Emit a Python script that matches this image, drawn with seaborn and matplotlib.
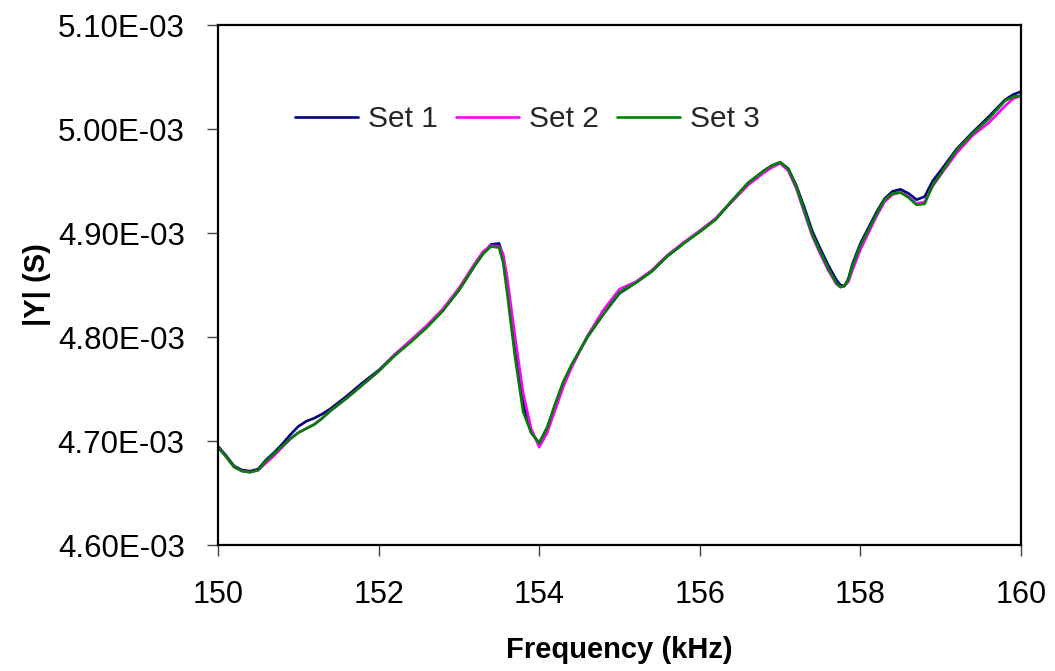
import matplotlib
matplotlib.use("Agg")
import matplotlib.pyplot as plt
from matplotlib.ticker import FuncFormatter, MultipleLocator
import numpy as np
import pandas as pd
import seaborn as sns

# Frequency sweep (kHz)
freq_khz = [
    150.0, 150.1, 150.2, 150.3, 150.4, 150.5, 150.6, 150.7, 150.8, 150.9,
    151.0, 151.1, 151.2, 151.3, 151.4, 151.6, 151.8, 152.0, 152.2, 152.4,
    152.6, 152.8, 153.0, 153.2, 153.3, 153.4, 153.5, 153.55, 153.6, 153.7,
    153.8, 153.9, 154.0, 154.1, 154.2, 154.3, 154.4, 154.6, 154.8, 155.0,
    155.2, 155.4, 155.6, 155.8, 156.0, 156.2, 156.4, 156.6, 156.8, 156.9,
    157.0, 157.1, 157.2, 157.3, 157.4, 157.5, 157.6, 157.7, 157.75, 157.8,
    157.85, 157.9, 158.0, 158.1, 158.2, 158.3, 158.4, 158.5, 158.6, 158.7,
    158.8, 158.9, 159.0, 159.2, 159.4, 159.6, 159.8, 159.9, 160.0,
]

# Admittance magnitude |Y| in mS for three measurement sets
set1_ms = [
    4.695, 4.686, 4.676, 4.672, 4.671, 4.673, 4.682, 4.689, 4.697, 4.706,
    4.714, 4.719, 4.722, 4.726, 4.731, 4.743, 4.756, 4.768, 4.783, 4.796,
    4.810, 4.826, 4.845, 4.869, 4.880, 4.889, 4.890, 4.878, 4.850, 4.788,
    4.736, 4.708, 4.698, 4.713, 4.735, 4.756, 4.772, 4.800, 4.822, 4.842,
    4.852, 4.863, 4.878, 4.890, 4.902, 4.914, 4.931, 4.948, 4.960, 4.965,
    4.968, 4.962, 4.946, 4.925, 4.902, 4.885, 4.869, 4.855, 4.850, 4.849,
    4.856, 4.870, 4.890, 4.905, 4.920, 4.933, 4.940, 4.942, 4.938, 4.932,
    4.935, 4.950, 4.960, 4.981, 4.997, 5.012, 5.028, 5.033, 5.036,
]
set2_ms = [
    4.694, 4.685, 4.675, 4.671, 4.670, 4.672, 4.679, 4.686, 4.694, 4.702,
    4.708, 4.712, 4.716, 4.722, 4.729, 4.741, 4.754, 4.767, 4.783, 4.797,
    4.811, 4.827, 4.847, 4.871, 4.882, 4.888, 4.887, 4.880, 4.858, 4.800,
    4.746, 4.712, 4.694, 4.708, 4.730, 4.752, 4.770, 4.801, 4.826, 4.846,
    4.853, 4.864, 4.879, 4.891, 4.902, 4.914, 4.930, 4.946, 4.958, 4.963,
    4.967, 4.960, 4.943, 4.920, 4.897, 4.880, 4.864, 4.851, 4.848, 4.849,
    4.853, 4.864, 4.884, 4.900, 4.916, 4.930, 4.937, 4.939, 4.935, 4.928,
    4.930, 4.945, 4.956, 4.977, 4.994, 5.006, 5.022, 5.029, 5.032,
]
set3_ms = [
    4.694, 4.685, 4.675, 4.671, 4.670, 4.672, 4.681, 4.688, 4.695, 4.702,
    4.708, 4.712, 4.716, 4.722, 4.729, 4.741, 4.754, 4.767, 4.782, 4.795,
    4.809, 4.825, 4.845, 4.869, 4.880, 4.887, 4.886, 4.872, 4.843, 4.780,
    4.728, 4.708, 4.698, 4.713, 4.736, 4.757, 4.773, 4.800, 4.822, 4.843,
    4.852, 4.863, 4.878, 4.890, 4.901, 4.913, 4.931, 4.948, 4.960, 4.965,
    4.968, 4.962, 4.945, 4.922, 4.899, 4.882, 4.866, 4.852, 4.848, 4.849,
    4.855, 4.868, 4.888, 4.903, 4.918, 4.932, 4.938, 4.939, 4.934, 4.927,
    4.928, 4.946, 4.957, 4.980, 4.996, 5.010, 5.027, 5.031, 5.032,
]

series_names = ["Set 1", "Set 2", "Set 3"]
series_colors = ["#000080", "#FF00FF", "#008000"]

frames = []
for name, vals in zip(series_names, [set1_ms, set2_ms, set3_ms]):
    frames.append(pd.DataFrame({
        "freq": freq_khz,
        "Y": np.asarray(vals) * 1e-3,   # mS -> S
        "series": name,
    }))
df = pd.concat(frames, ignore_index=True)

sns.set_theme(style="white")
plt.rcParams["font.family"] = ["Liberation Sans", "DejaVu Sans"]

W, H = 1055, 671
fig = plt.figure(figsize=(W / 100, H / 100), dpi=100)
left, right, top, bottom = 218, 1021, 25, 545
ax = fig.add_axes([left / W, 1 - bottom / H, (right - left) / W, (bottom - top) / H])

sns.lineplot(data=df, x="freq", y="Y", hue="series", palette=series_colors,
             hue_order=series_names, linewidth=1.9, ax=ax, legend=False,
             sort=False, estimator=None)

ax.set_xlim(150, 160)
ax.set_ylim(4.60e-3, 5.10e-3)
ax.xaxis.set_major_locator(MultipleLocator(2))
ax.yaxis.set_major_locator(MultipleLocator(0.1e-3))
ax.yaxis.set_major_formatter(FuncFormatter(lambda v, p: f"{v:.2E}"))

for side in ["left", "right", "top", "bottom"]:
    ax.spines[side].set_visible(True)
    ax.spines[side].set_color("black")
    ax.spines[side].set_linewidth(1.6)

ax.tick_params(axis="both", which="major", direction="out", length=8,
               width=1.0, color="#444444", labelcolor="black",
               left=True, bottom=True, top=False, right=False)
ax.tick_params(axis="y", labelsize=22.5, pad=16)
ax.tick_params(axis="x", labelsize=22, pad=17)

ax.set_xlabel("Frequency (kHz)", fontsize=21, fontweight="bold", color="black")
ax.set_ylabel("|Y| (S)", fontsize=21, fontweight="bold", color="black")
ax.xaxis.set_label_coords(0.5, (bottom - 636) / (bottom - top))
ax.yaxis.set_label_coords((23 - left) / (right - left), 0.5)
ax.yaxis.label.set_va("top")
ax.xaxis.label.set_va("top")

handles = [plt.Line2D([], [], color=c, linewidth=1.9) for c in series_colors]
fig.legend(handles, series_names, loc="center left",
           bbox_to_anchor=(295 / W, 1 - 119 / H), ncol=3, frameon=False,
           fontsize=21.5, handlelength=2.1, handletextpad=0.35,
           columnspacing=0.6, borderpad=0, borderaxespad=0)

fig.savefig("out.png", dpi=100, facecolor="white")
